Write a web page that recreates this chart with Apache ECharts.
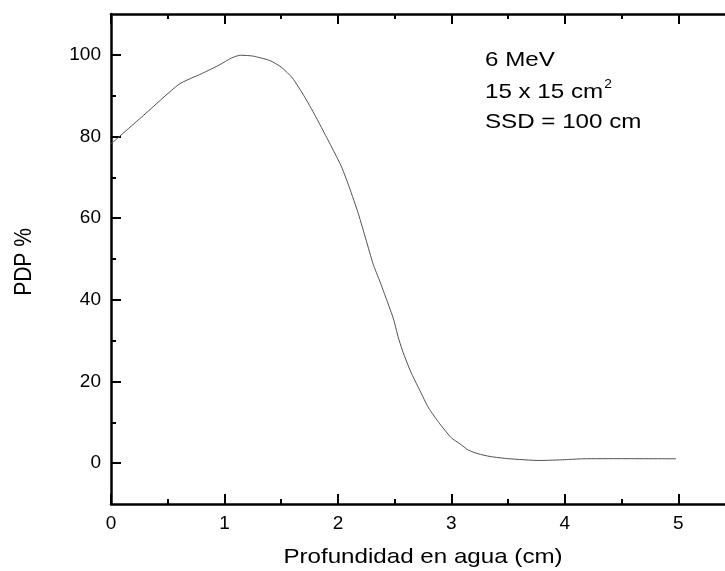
<!DOCTYPE html>
<html>
<head>
<meta charset="utf-8">
<script src="https://cdn.jsdelivr.net/npm/echarts@6/dist/echarts.min.js"></script>
<style>html,body{margin:0;padding:0;background:#fff}#c{width:725px;height:571px}</style>
</head>
<body>
<div id="c"></div>
<script>
// Data
const depth = [0, 0.3, 0.6, 0.8, 0.96, 1.06, 1.14, 1.25, 1.4, 1.5, 1.6, 1.7, 1.8, 1.885, 1.96, 2.033, 2.1, 2.18, 2.25, 2.31, 2.37, 2.43, 2.49, 2.53, 2.57, 2.64, 2.722, 2.8, 2.899, 3.0, 3.075, 3.15, 3.236, 3.34, 3.5, 3.78, 4.0, 4.16, 4.5, 4.98];
const pdp   = [78.2, 85.5, 92.8, 95.4, 97.6, 99.2, 99.9, 99.7, 98.6, 97.0, 94.3, 90.0, 85.1, 80.6, 76.6, 72.5, 67.6, 61.1, 54.5, 48.8, 44.5, 40.0, 35.3, 31.0, 27.5, 22.5, 17.8, 13.5, 9.6, 6.2, 4.75, 3.2, 2.3, 1.64, 1.1, 0.66, 0.85, 1.07, 1.1, 1.07];
const xMajor = [0, 1, 2, 3, 4, 5];
const xMinor = [0.5, 1.5, 2.5, 3.5, 4.5];
const yMajor = [0, 20, 40, 60, 80, 100];
const yMinor = [10, 30, 50, 70, 90];
const xLabelText = xMajor;
const yLabelText = yMajor;
const xName = 'Profundidad en agua (cm)';
const yName = 'PDP %';
const notes = ['6 MeV', '15 x 15 cm', 'SSD = 100 cm'];

const FONT = '"Liberation Sans", Arial, sans-serif';
const X_MIN = 0, X_MAX = 5.5, Y_MIN = -10, Y_MAX = 110;

function axis(kind, position, ticks, len, withLine, labels) {
  return {
    type: 'value', position: position,
    min: kind === 'x' ? X_MIN : Y_MIN, max: kind === 'x' ? X_MAX : Y_MAX,
    splitLine: { show: false },
    axisLine: { show: withLine, onZero: false, lineStyle: { color: '#000', width: 2.5 } },
    axisTick: { show: true, inside: true, length: len, customValues: ticks, lineStyle: { color: '#000', width: 2 } },
    axisLabel: labels ? { show: true, customValues: labels, margin: 10, color: '#000', fontSize: 19, fontFamily: FONT }
                      : { show: false }
  };
}

const chart = echarts.init(document.getElementById('c'), null, { renderer: 'canvas' });
chart.setOption({
  animation: false,
  backgroundColor: '#fff',
  grid: { left: 111, top: 14, width: 624, height: 490, containLabel: false, outerBoundsMode: 'none' },
  xAxis: [
    axis('x', 'bottom', xMajor, 10, true, xLabelText),
    axis('x', 'bottom', xMinor, 5, false, null),
    axis('x', 'top', xMajor, 10, true, null),
    axis('x', 'top', xMinor, 5, false, null)
  ],
  yAxis: [
    axis('y', 'left', yMajor, 10, true, yLabelText),
    axis('y', 'left', yMinor, 5, false, null),
    axis('y', 'right', yMajor, 10, true, null),
    axis('y', 'right', yMinor, 5, false, null)
  ],
  series: [{
    type: 'line', xAxisIndex: 0, yAxisIndex: 0,
    data: depth.map((d, i) => [d, pdp[i]]),
    smooth: 0.2, showSymbol: false, symbol: 'none',
    lineStyle: { color: '#505050', width: 1 }
  }],
  graphic: [
    { type: 'text', x: 423, y: 557, scaleX: 1.15,
      style: { text: xName, font: '21px ' + FONT, fill: '#000', align: 'center', verticalAlign: 'middle' } },
    { type: 'text', x: 24, y: 262, rotation: Math.PI / 2, scaleY: 1.15,
      style: { text: yName, font: '21px ' + FONT, fill: '#000', align: 'center', verticalAlign: 'middle' } },
    { type: 'text', x: 485, y: 60, scaleX: 1.15,
      style: { text: notes[0], font: '21px ' + FONT, fill: '#000', align: 'left', verticalAlign: 'middle' } },
    { type: 'text', x: 485, y: 91, scaleX: 1.15,
      style: { text: '{n|' + notes[1] + '}{s|2}', align: 'left', verticalAlign: 'middle',
        rich: {
          n: { fontSize: 21, fontFamily: FONT, fill: '#000', lineHeight: 24, verticalAlign: 'bottom' },
          s: { fontSize: 12, fontFamily: FONT, fill: '#000', lineHeight: 12, verticalAlign: 'top', padding: [0, 0, 0, 1] }
        } } },
    { type: 'text', x: 485, y: 122, scaleX: 1.15,
      style: { text: notes[2], font: '21px ' + FONT, fill: '#000', align: 'left', verticalAlign: 'middle' } }
  ]
});
</script>
</body>
</html>
